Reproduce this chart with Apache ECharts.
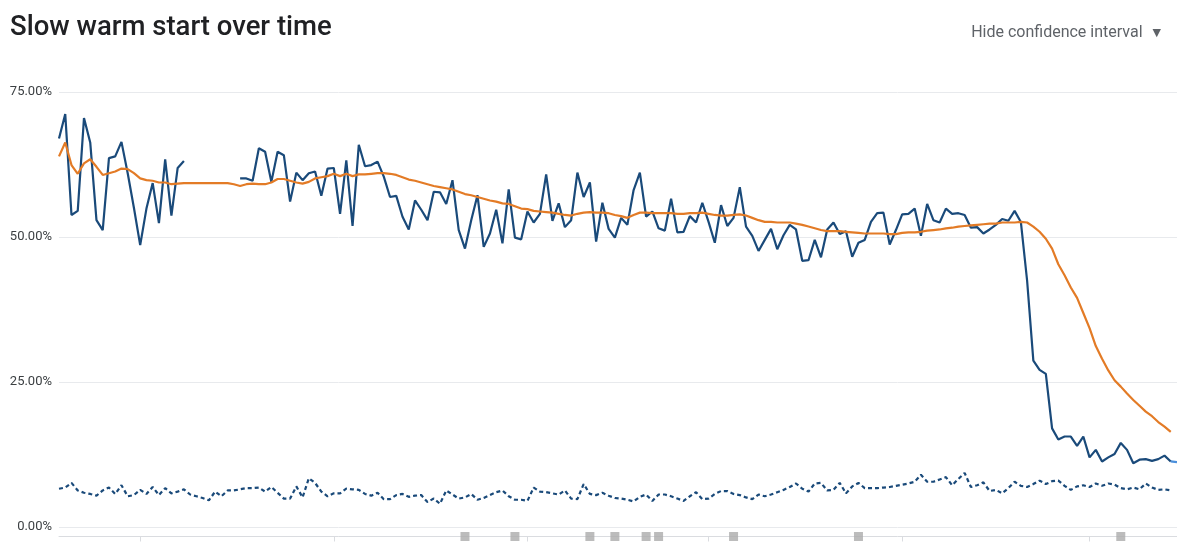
<!DOCTYPE html>
<html>
<head>
<meta charset="utf-8">
<script src="https://cdn.jsdelivr.net/npm/echarts@6/dist/echarts.min.js"></script>
<style>
  html, body { margin: 0; padding: 0; background: #fff; }
  #chart { width: 1177px; height: 548px; }
</style>
</head>
<body>
<div id="chart"></div>
<script>
var chart = echarts.init(document.getElementById('chart'));

// one point per day, first day shown
var startDate = '2023-11-18';
var dayCount = 180;

// slow warm start rate (%), null = no data
var rate = [
  67.0, 71.2, 53.8, 54.5, 70.5, 66.3, 52.9, 51.2, 63.6, 63.9,
  66.4, 61.0, 55.0, 48.6, 54.9, 59.3, 52.4, 63.4, 53.7, 61.9,
  63.1, null, null, null, null, null, null, null, null, 60.1,
  60.1, 59.7, 65.3, 64.7, 59.5, 64.7, 64.1, 56.1, 61.1, 59.8,
  61.0, 61.3, 57.1, 61.8, 61.9, 54.0, 63.2, 51.9, 65.9, 62.2,
  62.4, 63.0, 60.4, 56.9, 57.1, 53.5, 51.3, 56.3, 54.7, 52.9,
  57.8, 57.7, 55.7, 59.8, 51.2, 48.0, 52.9, 57.2, 48.3, 50.6,
  54.7, 48.9, 58.2, 49.9, 49.6, 54.4, 52.5, 54.0, 60.8, 52.8,
  55.8, 51.7, 52.9, 61.1, 56.9, 59.4, 49.2, 55.9, 51.4, 49.9,
  53.3, 52.1, 58.1, 61.1, 53.5, 54.4, 51.5, 51.1, 56.6, 50.8,
  50.9, 53.6, 52.5, 55.9, 52.6, 49.0, 55.5, 51.9, 53.3, 58.6,
  51.8, 50.2, 47.6, 49.5, 51.4, 47.9, 50.3, 52.1, 51.3, 45.9,
  46.0, 49.5, 46.5, 51.3, 52.5, 50.5, 51.0, 46.6, 49.0, 49.5,
  52.6, 54.1, 54.2, 48.7, 51.2, 53.9, 54.0, 54.9, 50.2, 55.7,
  52.9, 52.5, 54.9, 54.0, 54.1, 53.8, 51.6, 51.7, 50.6, 51.3,
  52.1, 53.1, 52.8, 54.5, 52.6, 42.5, 28.7, 27.1, 26.4, 17.0,
  15.1, 15.6, 15.6, 14.0, 15.6, 12.0, 13.3, 11.3, 12.0, 12.6,
  14.5, 13.3, 11.0, 11.6, 11.7, 11.4, 11.7, 12.3, 11.3
];

// last, incomplete day (drawn lighter)
var partialRate = 11.2;

// smoothed trend (%)
var trend = [
  63.9, 66.3, 62.4, 60.9, 62.7, 63.4, 62.1, 60.7, 61.0, 61.3,
  61.8, 61.7, 61.0, 60.1, 59.8, 59.7, 59.4, 59.4, 59.1, 59.2,
  59.3, 59.3, 59.3, 59.3, 59.3, 59.3, 59.3, 59.3, 59.1, 58.8,
  59.1, 59.2, 59.1, 59.1, 59.4, 60.0, 60.0, 59.7, 59.4, 59.2,
  59.5, 60.1, 60.3, 60.5, 60.9, 60.5, 60.9, 60.5, 60.8, 60.8,
  60.9, 61.0, 61.0, 60.9, 60.7, 60.3, 59.9, 59.7, 59.4, 59.1,
  58.8, 58.6, 58.4, 58.2, 57.8, 57.4, 57.2, 56.9, 56.6, 56.3,
  56.1, 55.8, 55.7, 55.3, 54.9, 54.8, 54.5, 54.4, 54.3, 54.2,
  54.0, 53.8, 53.7, 54.0, 54.2, 54.3, 54.2, 54.2, 54.1, 53.8,
  53.6, 53.3, 53.8, 54.2, 54.2, 54.1, 54.1, 54.1, 54.1, 54.0,
  54.0, 54.1, 54.1, 54.2, 54.0, 53.8, 53.7, 53.7, 53.8, 53.9,
  53.7, 53.3, 52.9, 52.6, 52.6, 52.5, 52.5, 52.5, 52.3, 52.1,
  51.8, 51.5, 51.2, 51.0, 51.0, 51.0, 50.9, 50.8, 50.7, 50.6,
  50.6, 50.6, 50.6, 50.5, 50.5, 50.7, 50.8, 50.8, 50.9, 51.1,
  51.2, 51.3, 51.5, 51.6, 51.8, 51.9, 52.0, 52.1, 52.2, 52.3,
  52.3, 52.5, 52.5, 52.5, 52.6, 52.5, 51.8, 50.9, 49.7, 48.0,
  45.3, 43.4, 41.3, 39.5, 36.9, 34.3, 31.2, 29.0, 27.0, 25.3,
  24.2, 23.0, 21.9, 20.9, 19.9, 19.1, 18.1, 17.3, 16.4
];

// baseline (%), dashed line
var baseline = [
  6.6, 6.8, 7.6, 6.3, 5.9, 5.7, 5.4, 6.3, 6.8, 5.7,
  7.2, 5.3, 5.5, 6.4, 5.7, 6.9, 5.5, 6.7, 5.8, 6.1,
  6.5, 5.6, 5.3, 5.0, 4.6, 6.1, 5.3, 6.3, 6.3, 6.5,
  6.7, 6.7, 6.8, 6.1, 6.9, 5.9, 4.9, 4.9, 7.0, 5.1,
  8.4, 7.6, 6.1, 5.3, 5.8, 5.8, 6.6, 6.5, 6.4, 5.7,
  5.4, 5.9, 4.8, 4.8, 5.5, 5.7, 5.2, 5.4, 5.5, 4.3,
  4.9, 4.0, 6.3, 5.6, 4.9, 5.1, 5.7, 4.7, 5.0, 5.5,
  6.0, 6.3, 5.3, 4.7, 4.7, 4.5, 6.8, 6.1, 6.0, 5.8,
  5.6, 6.3, 4.9, 4.8, 7.4, 5.7, 5.5, 5.9, 5.4, 5.0,
  4.9, 4.7, 4.4, 5.2, 5.6, 4.5, 5.6, 5.6, 5.3, 4.9,
  4.5, 5.3, 6.0, 4.8, 4.9, 5.7, 6.2, 6.2, 5.7, 5.5,
  5.1, 4.8, 5.6, 5.3, 5.6, 6.0, 6.4, 6.9, 7.5, 6.6,
  6.1, 7.5, 7.6, 6.3, 6.4, 7.6, 5.8, 7.0, 7.6, 6.7,
  6.7, 6.7, 6.8, 6.9, 7.1, 7.3, 7.5, 7.8, 9.0, 7.8,
  7.8, 8.2, 8.6, 7.2, 8.3, 9.3, 6.9, 7.2, 7.7, 6.2,
  6.4, 5.8, 6.7, 7.8, 7.1, 6.9, 7.4, 8.0, 7.4, 7.9,
  8.0, 7.1, 6.4, 7.0, 7.2, 6.9, 7.5, 7.1, 7.5, 7.3,
  6.7, 6.5, 6.8, 6.5, 7.5, 6.8, 6.4, 6.5, 6.3
];

// days with an annotation (grey squares under the chart)
var eventDays = [65, 73, 85, 89, 94, 96, 108, 128, 170];

var yTicks = [0, 25, 50, 75];

// build date categories
var days = [];
var d0 = new Date(startDate + 'T00:00:00Z');
for (var i = 0; i < dayCount; i++) {
  var d = new Date(d0.getTime() + i * 86400000);
  days.push(d.toISOString().slice(0, 10));
}

var tail = days.map(function (x, i) {
  if (i === rate.length - 1) return rate[i];
  if (i === rate.length) return partialRate;
  return null;
});

var events = eventDays.map(function (i) { return [days[i], 0]; });

var darkBlue = '#1a4a7a';

option = {
  animation: false,
  title: [{
    text: 'Slow warm start over time',
    left: 5,
    top: 9,
    textStyle: {
      fontFamily: 'Roboto',
      fontSize: 27.5,
      fontWeight: 500,
      color: '#202124'
    }
  }, {
    text: '{a|Hide confidence interval}  {b|▼}',
    right: 11,
    top: 19,
    textStyle: {
      fontWeight: 'normal',
      rich: {
        a: { fontFamily: 'Roboto', fontSize: 16, fontWeight: 'normal', color: '#5f6368' },
        b: { fontFamily: 'DejaVu Sans', fontSize: 11, fontWeight: 'normal', color: '#5f6368' }
      }
    }
  }],
  grid: [
    { left: 59, top: 92, width: 1119, height: 435 },
    { left: 59, top: 527, width: 1119, height: 19 }
  ],
  xAxis: [{
    type: 'category',
    gridIndex: 0,
    data: days,
    boundaryGap: false,
    show: false
  }, {
    type: 'category',
    gridIndex: 1,
    data: days,
    boundaryGap: false,
    axisLine: { lineStyle: { color: '#dadce0', width: 1 } },
    axisTick: {
      length: 5,
      lineStyle: { color: '#dadce0' },
      interval: function (idx, val) { return val.slice(8) === '01'; }
    },
    axisLabel: { show: false }
  }],
  yAxis: [{
    type: 'value',
    gridIndex: 0,
    min: yTicks[0],
    max: yTicks[yTicks.length - 1],
    interval: 25,
    axisLine: { show: false },
    axisTick: { show: false },
    axisLabel: {
      margin: 7,
      fontFamily: 'Roboto',
      fontSize: 13,
      color: '#3c4043',
      formatter: function (v) { return v.toFixed(2) + '%'; }
    },
    splitLine: { lineStyle: { color: '#e8eaed' } }
  }, {
    type: 'value',
    gridIndex: 1,
    min: -1,
    max: 1,
    show: false
  }],
  series: [{
    name: 'Slow warm start',
    type: 'line',
    data: rate,
    showSymbol: false,
    connectNulls: false,
    lineStyle: { color: darkBlue, width: 2.2 },
    itemStyle: { color: darkBlue },
    z: 3
  }, {
    name: 'Partial',
    type: 'line',
    data: tail,
    showSymbol: false,
    lineStyle: { color: '#4a8fdc', width: 2.2 },
    z: 3
  }, {
    name: 'Trend',
    type: 'line',
    data: trend,
    showSymbol: false,
    lineStyle: { color: '#e37b26', width: 2.2 },
    itemStyle: { color: '#e37b26' },
    z: 4
  }, {
    name: 'Baseline',
    type: 'line',
    data: baseline,
    showSymbol: false,
    lineStyle: { color: darkBlue, width: 2.2, type: [4, 3] },
    itemStyle: { color: darkBlue }
  }, {
    name: 'Events',
    type: 'scatter',
    xAxisIndex: 1,
    yAxisIndex: 1,
    data: events,
    symbol: 'rect',
    symbolSize: 9,
    itemStyle: { color: '#ababab' }
  }]
};
chart.setOption(option);
</script>
</body>
</html>
